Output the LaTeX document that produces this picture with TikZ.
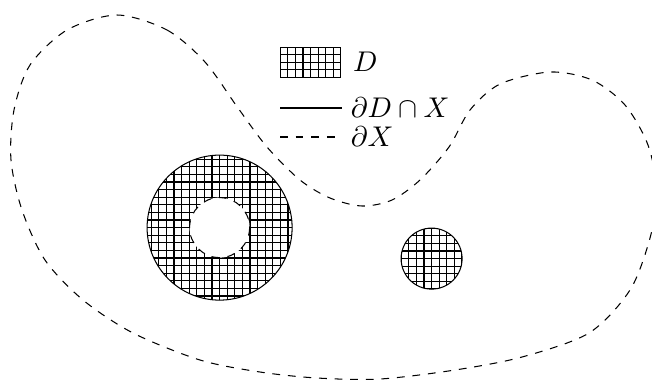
\documentclass[tikz,border=0pt]{standalone}
\usepackage{amsmath}
\usepackage{amssymb}
\usepackage{tikz}
\usetikzlibrary{positioning}

\begin{document}
\begin{tikzpicture}[
    x=0.3846pt, y=-0.3846pt,
    node distance=1.5mm,
    font=\fontsize{10.5}{12.6}\selectfont,
    region/.style={path picture={
      \begin{scope}[shift={(path picture bounding box.center)}]
        \foreach \k in {-10,...,10} {
          \draw (\k*7.6,-80) -- (\k*7.6,80);
          \draw (-80,\k*7.6) -- (80,\k*7.6);
        }
      \end{scope}}},
    boundary/.style={dashed},
    legbox/.style={draw, region, minimum width=23.36pt, minimum height=11.68pt, inner sep=0pt},
    legtext/.style={inner sep=0pt}]
  \useasboundingbox (0,0) rectangle (652,379);
  % the set X
  \draw[boundary] plot[smooth cycle] coordinates {
    (117,15) (167,30) (205,62) (238,108) (267,147) (300,180) (330,198)
    (362,206) (392,200) (420,180) (449,147) (470,110) (500,84) (550,72)
    (592,80) (625,105) (648,145) (657,192) (650,238) (630,290) (589,333)
    (522,357) (455,370) (380,379) (317,378) (260,372) (200,360) (133,333)
    (83,300) (45,260) (22,210) (11,160) (14,110) (30,65) (67,30)};
  % the set D
  \coordinate (ann) at (219.6,227.6);
  \coordinate (disc) at (431.6,258.6);
  \draw[region] (ann) circle (72.5);
  \fill[white] (ann) circle (30);
  \draw[boundary] (ann) circle (30);
  \draw[region] (disc) circle (30.5);
  % legend
  \node[legbox] (keyD) at (310.6,62.2) {};
  \node[legtext, right=of keyD] (labD) {$D$};
  \coordinate (solidA) at (280,108);
  \coordinate (solidB) at (341.5,108);
  \draw (solidA) -- (solidB);
  \node[legtext, right=1.2mm of solidB] (labS) {$\partial D\cap X$};
  \coordinate (dashA) at (280,137);
  \coordinate (dashB) at (341.5,137);
  \draw[boundary] (dashA) -- (dashB);
  \node[legtext, right=1.2mm of dashB] (labX) {$\partial X$};
\end{tikzpicture}
\end{document}
